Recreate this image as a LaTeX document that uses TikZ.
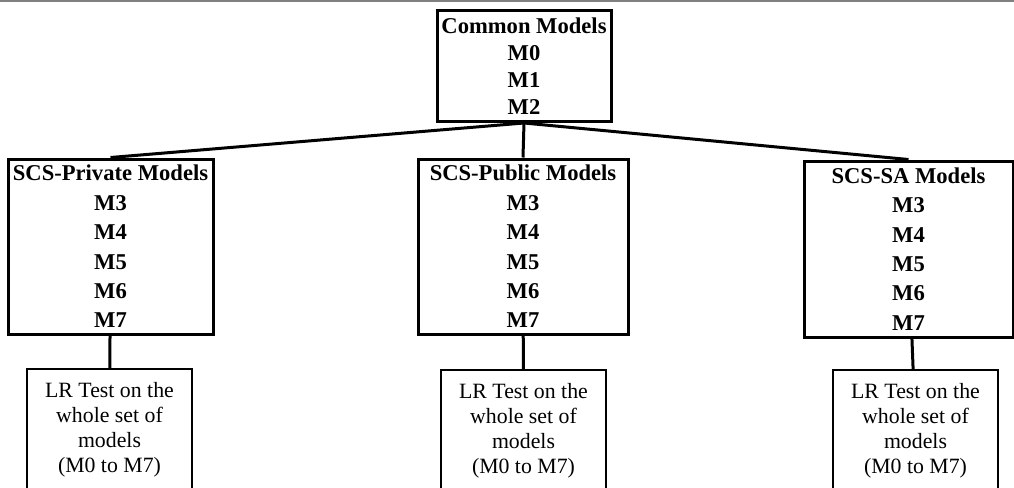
\documentclass[tikz,border=0pt]{standalone}
\usepackage{fontspec}
\setmainfont{Liberation Serif}
\tikzset{
  modelbox/.style={draw, line width=1.5pt, align=center, inner sep=0pt,
    font=\bfseries\fontsize{11.3}{14.7}\selectfont},
  testbox/.style={draw, line width=0.7pt, align=center, inner sep=0pt,
    minimum width=82.5pt, minimum height=61pt,
    font=\fontsize{10.9}{12.5}\selectfont},
  link/.style={line width=1.5pt}
}
\begin{document}
\begin{tikzpicture}[x=0.5pt,y=-0.5pt]
  \useasboundingbox (0,0) rectangle (1014,488);
  \clip (0,0) rectangle (1014,488);
  \draw[gray, line width=1pt] (0,1) -- (1014,1);

  \node[modelbox, minimum width=87pt, minimum height=55.5pt,
    font=\bfseries\fontsize{11.3}{13.6}\selectfont] (common) at (524,66)
    {Common Models\\M0\\M1\\M2};

  \node[modelbox, minimum width=102.5pt, minimum height=87.5pt] (private) at (110.5,246.5)
    {SCS-Private Models\\M3\\M4\\M5\\M6\\M7};
  \node[modelbox, minimum width=105pt, minimum height=87.5pt] (public) at (523,246.5)
    {SCS-Public Models\\M3\\M4\\M5\\M6\\M7};
  \node[modelbox, minimum width=104.5pt, minimum height=88pt] (sa) at (908.5,249)
    {SCS-SA Models\\M3\\M4\\M5\\M6\\M7};

  \node[testbox] (privtest) at (109.5,430) {LR Test on the\\whole set of\\models\\(M0 to M7)};
  \node[testbox] (pubtest) at (523.5,431) {LR Test on the\\whole set of\\models\\(M0 to M7)};
  \node[testbox] (satest) at (915.5,431) {LR Test on the\\whole set of\\models\\(M0 to M7)};

  \draw[link] (common.south) -- (private.north);
  \draw[link] (common.south) -- (public.north);
  \draw[link] (common.south) -- (sa.north);

  \draw[link] (private) -- (privtest);
  \draw[link] (public) -- (pubtest);
  \draw[link] (sa) -- (satest);
\end{tikzpicture}
\end{document}
